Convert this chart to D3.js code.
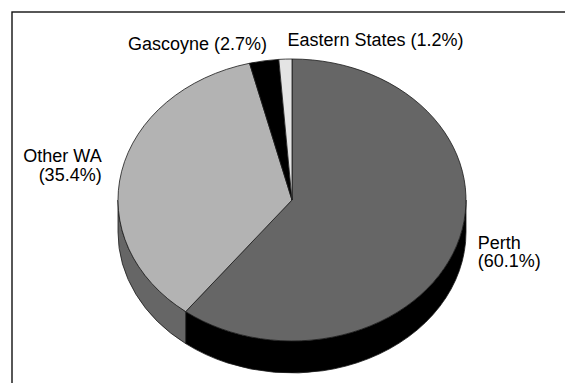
<!DOCTYPE html>
<html>
<head>
<meta charset="utf-8">
<script src="https://cdn.jsdelivr.net/npm/d3@7/dist/d3.min.js"></script>
<style>
  html, body { margin: 0; padding: 0; background: #fff; }
  svg { display: block; }
  text { font-family: "Liberation Sans", Arial, sans-serif; font-size: 18px; fill: #000; }
</style>
</head>
<body>
<svg id="chart" width="565" height="383"></svg>
<script>
// Share of total by region (percent)
const categories = ["Perth", "Other WA", "Gascoyne", "Eastern States"];
const shares = [60.1, 35.4, 2.7, 1.2];
// Labels broken over lines
const labelLines = [
  ["Perth", "(60.1%)"],
  ["Other WA", "(35.4%)"],
  ["Gascoyne (2.7%)"],
  ["Eastern States (1.2%)"]
];

const width = 565, height = 383;
const cx = 292, cy = 200;      // centre of the top face
const rx = 174, ry = 141;      // radii of the tilted disc
const depth = 32;              // thickness of the disc

const topFill = d3.scaleOrdinal().domain(categories)
  .range(["#666666", "#b3b3b3", "#000000", "#e4e4e4"]);
const sideFill = d3.scaleOrdinal().domain(categories)
  .range(["#000000", "#666666", "#000000", "#b3b3b3"]);

// Label placement relative to the rim point at each slice's mid angle
const labelLayout = {
  "Perth":          { anchor: "start", dx: 21,  dy: 3 },
  "Other WA":       { anchor: "end",   dx: -20, dy: -9 },
  "Gascoyne":       { anchor: "end",   dx: 3,   dy: -11 },
  "Eastern States": { anchor: "start", dx: 2,   dy: -13 }
};
const lineH = 18.5;

const svg = d3.select("#chart");

// frame (open to the right and bottom edges)
svg.append("rect")
  .attr("x", 12).attr("y", 12)
  .attr("width", width + 20).attr("height", height + 20)
  .attr("fill", "none").attr("stroke", "#111").attr("stroke-width", 1.4);

const data = categories.map((c, i) => ({ name: c, value: shares[i], lines: labelLines[i] }));
const arcs = d3.pie().sort(null).value(d => d.value)(data);

// point on the rim for a pie angle (0 at top, clockwise), optionally dropped to the base
const rim = (a, drop = 0) => [cx + rx * Math.sin(a), cy - ry * Math.cos(a) + drop];

const g = svg.append("g");

// side walls: only the front half (between 3 and 9 o'clock) is visible
arcs.forEach(d => {
  const a0 = Math.max(d.startAngle, Math.PI / 2);
  const a1 = Math.min(d.endAngle, 3 * Math.PI / 2);
  if (a1 <= a0) return;
  const p0 = rim(a0), p1 = rim(a1), q1 = rim(a1, depth), q0 = rim(a0, depth);
  const large = (a1 - a0) > Math.PI ? 1 : 0;
  const dstr = `M${p0[0]},${p0[1]} A${rx},${ry} 0 ${large} 1 ${p1[0]},${p1[1]} ` +
               `L${q1[0]},${q1[1]} A${rx},${ry} 0 ${large} 0 ${q0[0]},${q0[1]} Z`;
  g.append("path")
    .attr("d", dstr)
    .attr("fill", sideFill(d.data.name))
    .attr("stroke", "#1a1a1a")
    .attr("stroke-width", 0.8)
    .attr("stroke-linejoin", "round");
});

// top faces: circular sectors squashed into the ellipse
const arcGen = d3.arc().innerRadius(0).outerRadius(rx);
g.append("g")
  .attr("transform", `translate(${cx},${cy}) scale(1,${ry / rx})`)
  .selectAll("path")
  .data(arcs)
  .join("path")
  .attr("d", arcGen)
  .attr("fill", d => topFill(d.data.name))
  .attr("stroke", "#1a1a1a")
  .attr("stroke-width", 0.8)
  .attr("stroke-linejoin", "round")
  .attr("vector-effect", "non-scaling-stroke");

// labels, one text element per line
arcs.forEach(d => {
  const mid = (d.startAngle + d.endAngle) / 2;
  const p = rim(mid);
  const lay = labelLayout[d.data.name];
  d.data.lines.forEach((ln, i) => {
    svg.append("text")
      .attr("text-anchor", lay.anchor)
      .attr("x", p[0] + lay.dx)
      .attr("y", p[1] + lay.dy + i * lineH)
      .text(ln);
  });
});
</script>
</body>
</html>
